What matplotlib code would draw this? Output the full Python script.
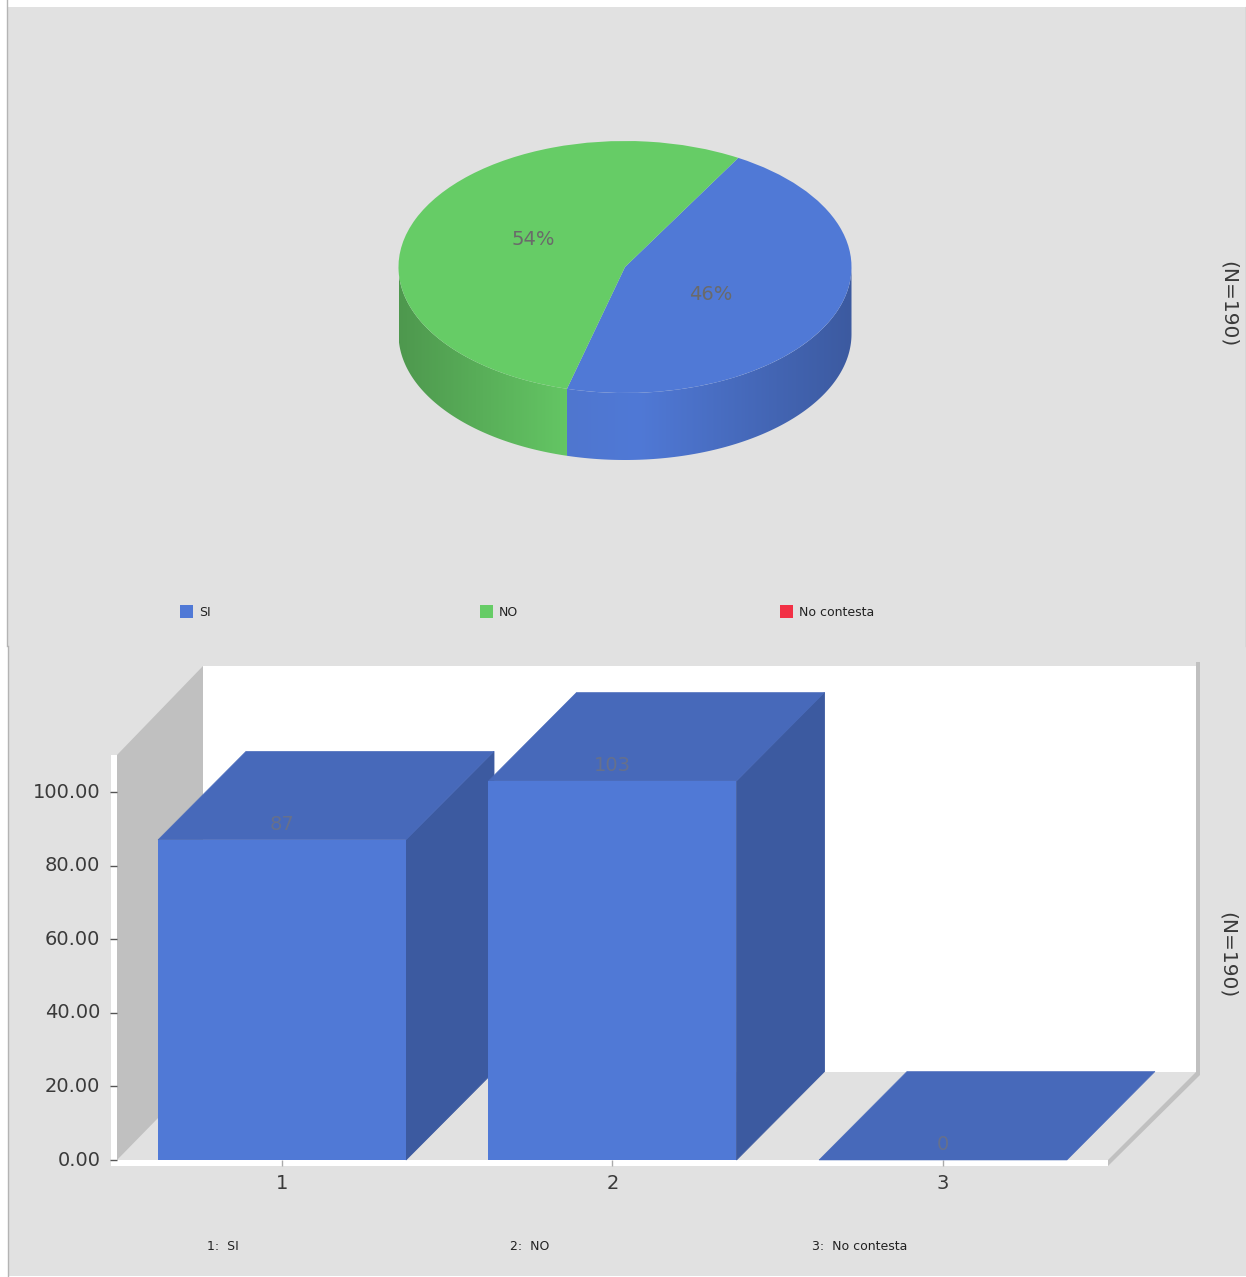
import numpy as np
import matplotlib
matplotlib.use('Agg')
import matplotlib.pyplot as plt
from matplotlib.colors import to_rgb
from matplotlib.patches import Rectangle, Polygon
from matplotlib.transforms import ScaledTranslation

categories = ['SI', 'NO', 'No contesta']
positions = [1, 2, 3]
values = [87, 103, 0]
yticks = [0, 20, 40, 60, 80, 100]
n_label = '(N=190)'

W, H = 1246, 1277
BG = '#e1e1e1'
BLUE, BLUE_TOP, BLUE_SIDE = '#5079d6', '#4769ba', '#3c5aa0'
GREEN, RED = '#66cc66', '#f23045'
TXT = '#3a3a3a'
VAL = '#6a6a6a'

def box(l, t, r, b):
    return [l / W, 1 - b / H, (r - l) / W, (b - t) / H]

def mix(a, b, f):
    a, b = np.array(to_rgb(a)), np.array(to_rgb(b))
    return a + (b - a) * f

fig = plt.figure(figsize=(W / 100, H / 100), dpi=100, facecolor='white')

# fond en pixels : panneaux, murs du graphique 3D, legendes
bg = fig.add_axes([0, 0, 1, 1])
bg.set_xlim(0, W)
bg.set_ylim(H, 0)
bg.axis('off')
bg.add_patch(Rectangle((7, 7), W - 7, 639, color=BG, lw=0))
bg.add_patch(Rectangle((8, 646), W - 8, 630, color=BG, lw=0))
bg.plot([6.5, 6.5], [0, 646], color='#b4b4b4', lw=1)
bg.plot([7.5, 7.5], [646, H], color='#b4b4b4', lw=1)
bg.plot([W - 0.5, W - 0.5], [7, 646], color='#b4b4b4', lw=1)

bg.add_patch(Rectangle((203, 666), 993, 406, color='white', lw=0))
bg.add_patch(Polygon([(117, 755), (203, 666), (203, 1072), (117, 1160)], color='#c0c0c0', lw=0))
bg.add_patch(Rectangle((111, 755), 6, 411, color='white', lw=0))
bg.add_patch(Rectangle((111, 1160), 997, 6, color='white', lw=0))
bg.add_patch(Polygon([(1108, 1160), (1196, 1072), (1196, 662), (1200, 662), (1200, 1075), (1108, 1166)],
                     color='#c0c0c0', lw=0))

# legende du camembert
for px, name, col in zip([180, 480, 780], categories, [BLUE, GREEN, RED]):
    bg.add_patch(Rectangle((px, 605), 13, 13, color=col, lw=0))
    t = bg.text(px + 19, 612, name, fontsize=9, color='#222222', va='center', ha='left')
    if name == 'SI':
        t.set_clip_path(Rectangle((px + 19, 600), 13, 24, transform=bg.transData))

# legende des barres
for px, pos, name in zip([207, 510, 812], positions, categories):
    bg.text(px, 1247, '%d:  %s' % (pos, name), fontsize=9, color='#222222', va='center', ha='left')

bg.text(1228, 304, n_label, fontsize=14.5, color=TXT, rotation=-90, ha='center', va='center')
bg.text(1227, 955, n_label, fontsize=14.5, color=TXT, rotation=-90, ha='center', va='center')

# camembert
CX, CY, RX, RY, DEPTH = 625, 267, 226.5, 126, 67
ax = fig.add_axes(box(7, 7, W, 646))
ax.patch.set_visible(False)
wedges, _, autotexts = ax.pie(values, colors=[BLUE, GREEN, RED], startangle=60, counterclock=False,
                              autopct=lambda p: '%.0f%%' % p if p > 0 else '', pctdistance=0.41,
                              wedgeprops={'lw': 0})
for t in autotexts:
    x, y = t.get_position()
    t.set_position((x * 1.07 if x < 0 else x, y * 1.42))
    t.set_fontsize(14)
    t.set_color(VAL)

# bord du camembert, degrade clippe sur la forme
d = DEPTH / RY
split = np.radians(60 - 360 * values[0] / sum(values)) + 2 * np.pi
xs = np.cos(split)

def rim(a0, a1, stops):
    angles = np.linspace(a0, a1, 120)
    top = np.column_stack([np.cos(angles), np.sin(angles)])
    low = top[::-1] - [0, d]
    poly = Polygon(np.vstack([top, low]), transform=ax.transData, facecolor='none', lw=0)
    ax.add_patch(poly)
    x0, x1 = top[:, 0].min(), top[:, 0].max()
    grad = np.linspace(0, 1, 256)
    pos, cols = zip(*stops)
    img = np.column_stack([np.interp(grad, pos, [to_rgb(c)[i] for c in cols]) for i in range(3)])
    im = ax.imshow(img[None, :, :], extent=[x0, x1, -1 - d, 0.1], aspect='auto', zorder=0.5, interpolation='bilinear')
    im.set_clip_path(poly)

rim(np.pi, split, [(0, '#4e984e'), (1, '#64c664')])
rim(split, 2 * np.pi, [(0, '#4f76cf'), (0.25, BLUE), (1, BLUE_SIDE)])

ax.set_aspect('auto')
ax.set_xlim((7 - CX) / RX, (W - CX) / RX)
ax.set_ylim((CY - 646) / RY, (CY - 7) / RY)

# barres
PX_X, PX_Y = 330.5, 3.68
bx = fig.add_axes(box(117, 660, 1200, 1160))
bx.patch.set_visible(False)
bx.set_xlim(1 + (117 - 282) / PX_X, 1 + (1200 - 282) / PX_X)
bx.set_ylim(0, 500 / PX_Y)
for s in bx.spines.values():
    s.set_visible(False)
dx, dy = 88 / PX_X, 88.5 / PX_Y
bw = 248 / PX_X
for pos, val in zip(positions, values):
    l, r = pos - bw / 2, pos + bw / 2
    if val > 0:
        bx.fill([r, r + dx, r + dx, r], [0, dy, val + dy, val], color=BLUE_SIDE, lw=0.6, zorder=2, clip_on=False)
    bx.fill([l, r, r + dx, l + dx], [val, val, val + dy, val + dy], color=BLUE_TOP, lw=0.4, zorder=2, clip_on=False)
    bx.bar(pos, val, width=bw, color=BLUE, lw=0, zorder=2)
    bx.text(pos, val + 4.1, str(val), fontsize=14, color='#66708c', ha='center', va='center', zorder=3)

bx.set_yticks(yticks)
bx.set_yticklabels(['%.2f' % v for v in yticks])
bx.set_xticks(positions)
bx.set_xticklabels([str(p) for p in positions])
bx.tick_params(axis='y', length=5, width=1, color='#555555', pad=7, labelsize=14, labelcolor=TXT)
bx.tick_params(axis='x', length=4.3, width=1, color='#aaaaaa', pad=6, labelsize=14, labelcolor=TXT)
up = ScaledTranslation(0, 2 / 100, fig.dpi_scale_trans)
for lab in bx.get_yticklabels():
    lab.set_transform(lab.get_transform() + up)

fig.savefig('out.png', dpi=100, facecolor='white')
